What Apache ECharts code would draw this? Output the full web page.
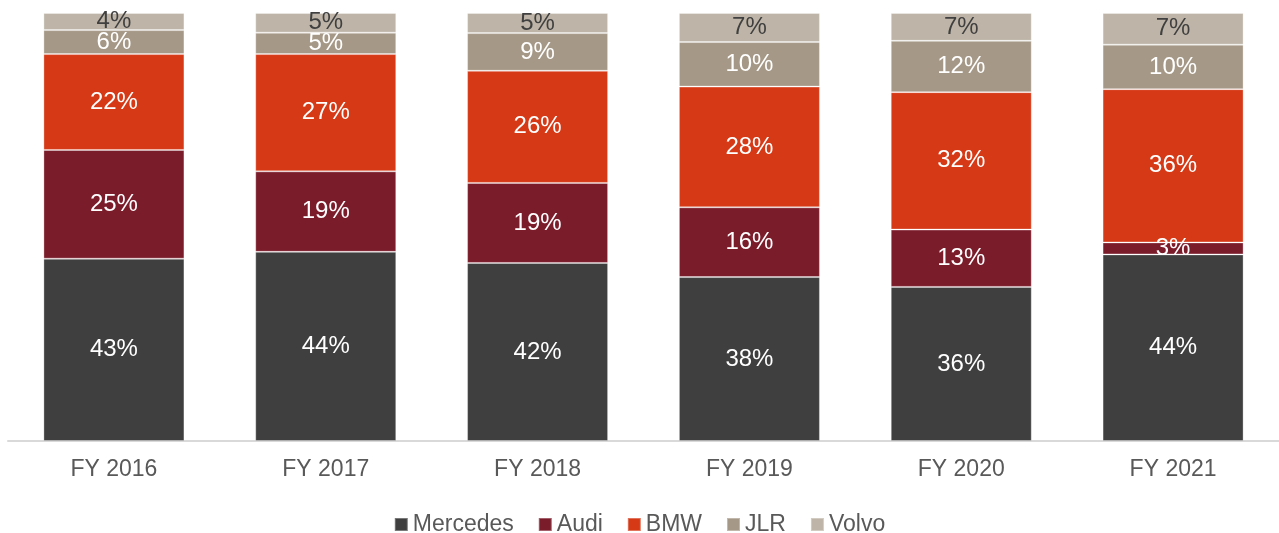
<!DOCTYPE html>
<html lang="en">
<head>
    <meta charset="UTF-8">
    <title>echarts</title>
    <script src="https://cdn.jsdelivr.net/npm/echarts/dist/echarts.min.js"></script>
    <style>
        html, body { margin: 0; padding: 0; background: #fff; }
    </style>
</head>
<body>
<div id="main" style="width: 1279px;height:533px;"></div>
<script type="text/javascript">
    // 年份
    var years = ['FY 2016', 'FY 2017', 'FY 2018', 'FY 2019', 'FY 2020', 'FY 2021'];
    // 各品牌份额 (%)
    var mercedes = [42.6, 44.2, 41.6, 38.3, 36.0, 43.6];
    var audi     = [25.4, 18.8, 18.7, 16.3, 13.4, 2.8];
    var bmw      = [22.4, 27.4, 26.2, 28.2, 32.1, 35.8];
    var jlr      = [5.6, 5.0, 8.8, 10.4, 12.0, 10.4];
    var volvo    = [4.0, 4.6, 4.7, 6.8, 6.5, 7.4];

    var chart = echarts.init(document.getElementById('main'));
    var font = 'Liberation Sans, Arial, sans-serif';

    function makeSeries(name, data, color, labelColor) {
        return {
            name: name,
            type: 'bar',
            stack: 'total',
            barWidth: 141,
            data: data,
            itemStyle: {
                color: color,
                borderColor: 'rgba(255,255,255,0.3)',
                borderWidth: 1
            },
            label: {
                show: true,
                position: 'inside',
                color: labelColor,
                fontFamily: font,
                fontSize: 24,
                formatter: function (p) { return Math.round(p.value) + '%'; }
            }
        };
    }

    chart.setOption({
        animation: false,
        grid: { left: 8, right: 0, top: 13, bottom: 92 },
        legend: {
            left: 'center',
            top: 508,
            itemWidth: 13,
            itemHeight: 13,
            itemGap: 24,
            icon: 'rect',
            textStyle: { fontFamily: font, fontSize: 23, color: '#595959' }
        },
        xAxis: {
            type: 'category',
            data: years,
            axisTick: { show: false },
            axisLine: { lineStyle: { color: '#d9d9d9', width: 2 } },
            axisLabel: { fontFamily: font, fontSize: 23, color: '#595959', margin: 17 }
        },
        yAxis: {
            type: 'value',
            min: 0,
            max: 100,
            show: false,
            splitLine: { show: false }
        },
        series: [
            makeSeries('Mercedes', mercedes, '#3f3f3f', '#ffffff'),
            makeSeries('Audi', audi, '#7b1c2b', '#ffffff'),
            makeSeries('BMW', bmw, '#d53916', '#ffffff'),
            makeSeries('JLR', jlr, '#a69886', '#ffffff'),
            makeSeries('Volvo', volvo, '#beb5a8', '#404040')
        ]
    });
</script>
</body>
</html>
